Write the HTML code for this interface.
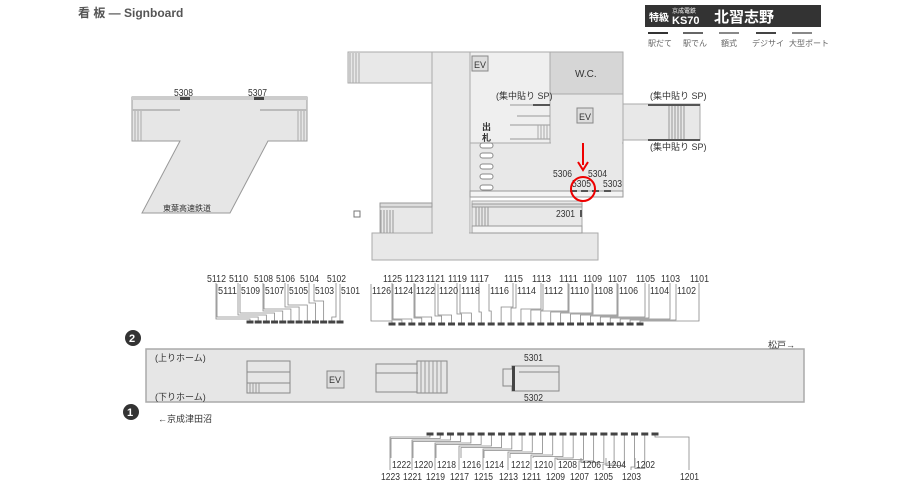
<!DOCTYPE html>
<html><head><meta charset="utf-8"><style>
body{margin:0;background:#fff;width:919px;height:491px;overflow:hidden}
svg{display:block;font-family:"Liberation Sans","Noto Sans CJK JP",sans-serif}
.n{font-size:10px;fill:#333}
</style></head><body>
<svg id="sv" width="919" height="491" viewBox="0 0 919 491" xmlns="http://www.w3.org/2000/svg">
<text x="78" y="17" font-size="12" font-weight="bold" fill="#555">看 板 — Signboard</text>
<rect x="645" y="5" width="176" height="22" fill="#333"/>
<text x="649" y="21" font-size="10" font-weight="bold" fill="#fff">特級</text>
<text x="672" y="13" font-size="6" fill="#fff">京成電鉄</text>
<text x="672" y="24" font-size="11" font-weight="bold" fill="#fff">KS70</text>
<text x="714" y="22" font-size="15" font-weight="bold" fill="#fff">北習志野</text>
<g stroke-width="2"><line x1="648" y1="33" x2="668" y2="33" stroke="#333"/><line x1="683" y1="33" x2="703" y2="33" stroke="#666"/><line x1="719" y1="33" x2="739" y2="33" stroke="#888"/><line x1="756" y1="33" x2="776" y2="33" stroke="#444"/><line x1="792" y1="33" x2="812" y2="33" stroke="#888"/></g>
<g font-size="8" fill="#666"><text x="648" y="46">駅だて</text><text x="683" y="46">駅でん</text><text x="721" y="46">額式</text><text x="752" y="46">デジサイ</text><text x="789" y="46">大型ポート</text></g>

<g fill="#e6e6e6" stroke="#999" stroke-width="1">
<path d="M132 97 H307 V141 H268 L230 213 H142 L180 141 H132 Z"/>
</g>
<rect x="132" y="97" width="175" height="3" fill="#ccc"/>
<rect x="132" y="109" width="48" height="2" fill="#bbb"/><rect x="260" y="109" width="47" height="2" fill="#bbb"/>
<g stroke="#aaa"><line x1="135" y1="111" x2="135" y2="141"/><line x1="138" y1="111" x2="138" y2="141"/><line x1="141" y1="111" x2="141" y2="141"/><line x1="298" y1="111" x2="298" y2="141"/><line x1="301" y1="111" x2="301" y2="141"/><line x1="304" y1="111" x2="304" y2="141"/></g>
<rect x="180" y="97" width="10" height="3" fill="#444"/><rect x="254" y="97" width="10" height="3" fill="#444"/>
<text x="174" y="96" class="n">5308</text><text x="248" y="96" class="n">5307</text>
<text x="163" y="211" font-size="8" fill="#333">東葉高速鉄道</text>

<g fill="#e8e8e8" stroke="#aaa">
<rect x="348" y="52" width="90" height="31"/>
<rect x="432" y="52" width="38" height="185"/>
<rect x="470" y="52" width="80" height="91" fill="#efefef"/>
<rect x="550" y="94" width="73" height="99"/>
<rect x="470" y="143" width="153" height="50"/>
<rect x="623" y="104" width="77" height="36"/>
<rect x="380" y="203" width="52" height="30"/>
<rect x="472" y="201" width="110" height="32"/>
<rect x="372" y="233" width="226" height="27"/>
</g>
<rect x="471" y="144" width="151" height="48" fill="#e8e8e8"/>
<rect x="551" y="95" width="71" height="60" fill="#e8e8e8"/>
<rect x="433" y="53" width="36" height="185" fill="#e8e8e8"/>
<rect x="550" y="52" width="73" height="42" fill="#d6d6d6" stroke="#aaa"/>
<text x="575" y="77" font-size="10" fill="#333">W.C.</text>
<rect x="472" y="56" width="16" height="15" fill="#ddd" stroke="#888"/><text x="474" y="68" font-size="9" fill="#333">EV</text>
<rect x="577" y="108" width="16" height="15" fill="#ddd" stroke="#888"/><text x="579" y="120" font-size="9" fill="#333">EV</text>
<g stroke="#999"><line x1="510" y1="105" x2="550" y2="105"/><line x1="517" y1="116" x2="550" y2="116"/><line x1="510" y1="125" x2="550" y2="125"/><line x1="510" y1="139" x2="550" y2="139"/></g>
<g stroke="#aaa"><line x1="538" y1="125" x2="538" y2="139"/><line x1="541" y1="125" x2="541" y2="139"/><line x1="544" y1="125" x2="544" y2="139"/><line x1="547" y1="125" x2="547" y2="139"/></g>
<g stroke="#aaa"><line x1="350" y1="53" x2="350" y2="83"/><line x1="353" y1="53" x2="353" y2="83"/><line x1="356" y1="53" x2="356" y2="83"/><line x1="359" y1="53" x2="359" y2="83"/></g>
<g stroke="#999"><line x1="669" y1="104" x2="669" y2="140"/><line x1="672" y1="104" x2="672" y2="140"/><line x1="675" y1="104" x2="675" y2="140"/><line x1="678" y1="104" x2="678" y2="140"/><line x1="681" y1="104" x2="681" y2="140"/><line x1="684" y1="104" x2="684" y2="140"/></g>
<rect x="648" y="104" width="52" height="2" fill="#555"/><rect x="648" y="139" width="52" height="2" fill="#555"/>
<rect x="533" y="104" width="17" height="2" fill="#555"/>
<g font-size="9" fill="#333"><text x="496" y="99">(集中貼り SP)</text><text x="650" y="99">(集中貼り SP)</text><text x="650" y="150">(集中貼り SP)</text></g>
<text x="482" y="130" font-size="9" font-weight="bold" fill="#333">出</text><text x="482" y="141" font-size="9" font-weight="bold" fill="#333">札</text>
<g fill="#fff" stroke="#888"><rect x="480" y="143" width="13" height="5" rx="2.5"/><rect x="480" y="153" width="13" height="5" rx="2.5"/><rect x="480" y="164" width="13" height="5" rx="2.5"/><rect x="480" y="174" width="13" height="5" rx="2.5"/><rect x="480" y="185" width="13" height="5" rx="2.5"/></g>
<rect x="470" y="191" width="153" height="6" fill="#f4f4f4" stroke="#999"/>
<rect x="472" y="204" width="110" height="3" fill="#ddd" stroke="#999"/>
<rect x="472" y="226" width="110" height="7" fill="#f4f4f4" stroke="#999"/>
<g stroke="#999"><line x1="476" y1="207" x2="476" y2="226"/><line x1="479" y1="207" x2="479" y2="226"/><line x1="482" y1="207" x2="482" y2="226"/><line x1="485" y1="207" x2="485" y2="226"/><line x1="488" y1="207" x2="488" y2="226"/><line x1="381" y1="210" x2="381" y2="233"/><line x1="384" y1="210" x2="384" y2="233"/><line x1="387" y1="210" x2="387" y2="233"/><line x1="390" y1="210" x2="390" y2="233"/><line x1="393" y1="210" x2="393" y2="233"/></g>
<rect x="380" y="203" width="52" height="4" fill="#ddd" stroke="#999"/>
<rect x="354" y="211" width="6" height="6" fill="#fff" stroke="#777"/>
<g class="n"><text x="553" y="177">5306</text><text x="588" y="177">5304</text><text x="572" y="187">5305</text><text x="603" y="187">5303</text><text x="556" y="217">2301</text></g>
<g fill="#555"><rect x="570" y="190" width="7" height="2"/><rect x="581" y="190" width="7" height="2"/><rect x="592" y="190" width="7" height="2"/><rect x="604" y="190" width="7" height="2"/><rect x="580" y="210" width="2" height="7"/></g>
<line x1="583" y1="143" x2="583" y2="165" stroke="#e00" stroke-width="2"/><path d="M578 162 L583 170 L588 162" fill="none" stroke="#e00" stroke-width="2"/>
<circle cx="583" cy="189" r="12" fill="none" stroke="#e00" stroke-width="2"/>

<rect x="146" y="349" width="658" height="53" fill="#e6e6e6" stroke="#aaa" stroke-width="1.5"/>
<g font-size="9" fill="#333"><text x="155" y="361">(上りホーム)</text><text x="155" y="400">(下りホーム)</text></g>
<g fill="#e6e6e6" stroke="#888"><rect x="247" y="361" width="43" height="32"/><rect x="376" y="364" width="42" height="28"/><rect x="417" y="361" width="30" height="32"/><rect x="512" y="366" width="47" height="25"/><rect x="503" y="369" width="10" height="17"/></g>
<g stroke="#888"><line x1="247" y1="372" x2="290" y2="372"/><line x1="247" y1="383" x2="290" y2="383"/><line x1="376" y1="373" x2="418" y2="373"/><line x1="519" y1="372" x2="559" y2="372"/></g>
<g stroke="#999"><line x1="250" y1="383" x2="250" y2="393"/><line x1="253" y1="383" x2="253" y2="393"/><line x1="256" y1="383" x2="256" y2="393"/><line x1="259" y1="383" x2="259" y2="393"/><line x1="421" y1="361" x2="421" y2="393"/><line x1="425" y1="361" x2="425" y2="393"/><line x1="429" y1="361" x2="429" y2="393"/><line x1="433" y1="361" x2="433" y2="393"/><line x1="437" y1="361" x2="437" y2="393"/><line x1="441" y1="361" x2="441" y2="393"/></g>
<rect x="512" y="366" width="3" height="25" fill="#444"/>
<rect x="327" y="371" width="17" height="17" fill="#ddd" stroke="#888"/><text x="329" y="383" font-size="9" fill="#333">EV</text>
<text x="524" y="361" class="n">5301</text><text x="524" y="401" class="n">5302</text>
<circle cx="133" cy="338" r="8" fill="#333"/><text x="129" y="342" font-size="11" font-weight="bold" fill="#fff">2</text>
<circle cx="131" cy="412" r="8" fill="#333"/><text x="127" y="416" font-size="11" font-weight="bold" fill="#fff">1</text>
<text x="768" y="348" font-size="9" fill="#333">松戸→</text>
<text x="158" y="422" font-size="9" fill="#333">←京成津田沼</text>

<g id="lines" stroke="#888" fill="none" stroke-width="0.8"></g>
<g id="marks" fill="#444"></g>

<g class="n">
<text x="207" y="282">5112</text><text x="229" y="282">5110</text><text x="254" y="282">5108</text><text x="276" y="282">5106</text><text x="300" y="282">5104</text><text x="327" y="282">5102</text>
<text x="218" y="294">5111</text><text x="241" y="294">5109</text><text x="265" y="294">5107</text><text x="289" y="294">5105</text><text x="315" y="294">5103</text><text x="341" y="294">5101</text>
<text x="383" y="282">1125</text><text x="405" y="282">1123</text><text x="426" y="282">1121</text><text x="448" y="282">1119</text><text x="470" y="282">1117</text><text x="504" y="282">1115</text><text x="532" y="282">1113</text><text x="559" y="282">1111</text><text x="583" y="282">1109</text><text x="608" y="282">1107</text><text x="636" y="282">1105</text><text x="661" y="282">1103</text><text x="690" y="282">1101</text>
<text x="372" y="294">1126</text><text x="394" y="294">1124</text><text x="416" y="294">1122</text><text x="439" y="294">1120</text><text x="461" y="294">1118</text><text x="490" y="294">1116</text><text x="517" y="294">1114</text><text x="544" y="294">1112</text><text x="570" y="294">1110</text><text x="594" y="294">1108</text><text x="619" y="294">1106</text><text x="650" y="294">1104</text><text x="677" y="294">1102</text>
<text x="392" y="468">1222</text><text x="414" y="468">1220</text><text x="437" y="468">1218</text><text x="462" y="468">1216</text><text x="485" y="468">1214</text><text x="511" y="468">1212</text><text x="534" y="468">1210</text><text x="558" y="468">1208</text><text x="582" y="468">1206</text><text x="607" y="468">1204</text><text x="636" y="468">1202</text>
<text x="381" y="480">1223</text><text x="403" y="480">1221</text><text x="426" y="480">1219</text><text x="450" y="480">1217</text><text x="474" y="480">1215</text><text x="499" y="480">1213</text><text x="522" y="480">1211</text><text x="546" y="480">1209</text><text x="570" y="480">1207</text><text x="594" y="480">1205</text><text x="622" y="480">1203</text><text x="680" y="480">1201</text>
</g>
</svg>
<script>
(function(){
var L=document.getElementById('lines'),M=document.getElementById('marks'),NS='http://www.w3.org/2000/svg';
var ts=document.querySelectorAll('text.n, .n text');
for(var k=0;k<ts.length;k++){ts[k].setAttribute('textLength','19');ts[k].setAttribute('lengthAdjust','spacingAndGlyphs');}
function grp(items,m0,m1,my,up,d){
 items.sort(function(a,b){return a[0]-b[0]});
 var n=items.length,step=(m1-m0)/(n-1);
 for(var i=0;i<n;i++){
  var mx=m0+i*step;
  var r=document.createElementNS(NS,'rect');r.setAttribute('x',mx-3.5);r.setAttribute('y',my-1.5);r.setAttribute('width',7);r.setAttribute('height',3);M.appendChild(r);
  var x=items[i][0],rank=(x<=mx)?i:(n-1-i);
  var ly=up?my-3-rank*d:my+3+rank*d;
  var p=document.createElementNS(NS,'path');
  p.setAttribute('d','M'+x+' '+items[i][1]+' V'+ly+' H'+mx+' V'+my);L.appendChild(p);
 }
}
var a=[];[207,229,254,276,300,327].forEach(function(v){a.push([v+9,283])});[218,241,265,289,315,341].forEach(function(v){a.push([v-1,284])});
grp(a,250,340,322,true,2);
var b=[];[383,405,426,448,470,504,532,559,583,608,636,661,690].forEach(function(v){b.push([v+9,283])});[372,394,416,439,461,490,517,544,570,594,619,650,677].forEach(function(v){b.push([v-1,284])});
grp(b,392,640,324,true,1);
var c=[];[392,414,437,462,485,511,534,558,582,607,636].forEach(function(v){c.push([v-1,458])});[381,403,426,450,474,499,522,546,570,594,622,680].forEach(function(v){c.push([v+9,470])});
grp(c,430,655,434,false,1.5);
})();
</script>
</body></html>
